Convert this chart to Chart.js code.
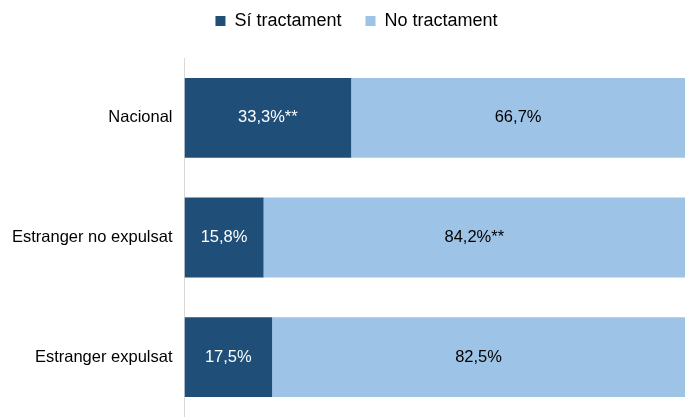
<!DOCTYPE html>
<html>
<head>
<meta charset="utf-8">
<script src="https://cdn.jsdelivr.net/npm/chart.js@4/dist/chart.umd.min.js"></script>
<style>
  html, body { margin: 0; padding: 0; background: #fff; overflow: hidden; }
  canvas { display: block; }
</style>
</head>
<body>
<canvas id="myChart" width="685" height="417"></canvas>
<script>
// dades
var categories = ['Nacional', 'Estranger no expulsat', 'Estranger expulsat'];
var siTractament = [33.3, 15.8, 17.5];
var noTractament = [66.7, 84.2, 82.5];
var siLabels = ['33,3%**', '15,8%', '17,5%'];
var noLabels = ['66,7%', '84,2%**', '82,5%'];

var FONT = '"Liberation Sans", Arial, sans-serif';

// etiquetes dins les barres
var barLabels = {
  id: 'barLabels',
  afterDatasetsDraw: function(chart) {
    var ctx = chart.ctx;
    ctx.save();
    ctx.font = '16.5px ' + FONT;
    ctx.textAlign = 'center';
    ctx.textBaseline = 'middle';
    chart.data.datasets.forEach(function(ds, i) {
      chart.getDatasetMeta(i).data.forEach(function(bar, j) {
        var p = bar.getProps(['x', 'y', 'base'], true);
        ctx.fillStyle = ds.labelColor;
        ctx.fillText(ds.texts[j], (p.x + p.base) / 2, p.y);
      });
    });
    ctx.restore();
  }
};

// alçada fixa de la llegenda i petit desplaçament a la dreta
var legendTweak = {
  id: 'legendTweak',
  beforeInit: function(chart) {
    var fit = chart.legend.fit;
    chart.legend.fit = function() {
      fit.bind(chart.legend)();
      this.height = 70;
    };
  },
  afterLayout: function(chart) {
    chart.legend.left += 14;
    chart.legend.right += 14;
  }
};

// l'eix vertical arriba fins a baix de tot
var yFull = function(scale) {
  scale.paddingBottom = 0;
  scale.paddingTop = 0;
};

var ctx = document.getElementById('myChart').getContext('2d');
var myChart = new Chart(ctx, {
  type: 'bar',
  data: {
    labels: categories,
    datasets: [{
      label: 'Sí tractament',
      data: siTractament,
      texts: siLabels,
      labelColor: '#ffffff',
      backgroundColor: '#1F4E79',
      categoryPercentage: 0.667,
      barPercentage: 1.0
    }, {
      label: 'No tractament',
      data: noTractament,
      texts: noLabels,
      labelColor: '#000000',
      backgroundColor: '#9DC3E6',
      categoryPercentage: 0.667,
      barPercentage: 1.0
    }]
  },
  options: {
    indexAxis: 'y',
    responsive: false,
    animation: false,
    layout: { autoPadding: false, padding: { top: -12, left: 0, right: 0, bottom: 0 } },
    scales: {
      x: { stacked: true, min: 0, max: 100, display: false },
      y: {
        stacked: true,
        afterFit: yFull,
        grid: { display: false, drawTicks: false },
        border: { color: '#D9D9D9', width: 1 },
        ticks: {
          color: '#000000',
          padding: 12,
          font: { family: FONT, size: 16.5 }
        }
      }
    },
    plugins: {
      legend: {
        position: 'top',
        labels: {
          boxWidth: 10,
          boxHeight: 10,
          padding: 24,
          color: '#000000',
          font: { family: FONT, size: 18 }
        }
      },
      tooltip: { enabled: false }
    }
  },
  plugins: [barLabels, legendTweak]
});
</script>
</body>
</html>
